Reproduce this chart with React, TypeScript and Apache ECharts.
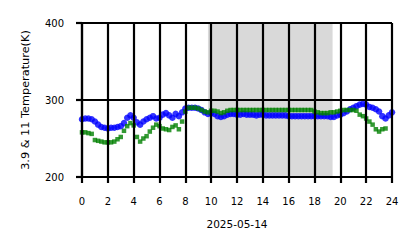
import React, { useEffect, useRef } from "react";
import * as echarts from "echarts";

const xTicks = [0, 2, 4, 6, 8, 10, 12, 14, 16, 18, 20, 22, 24];
const yTicks = [200, 300, 400];
const dateLabel = "2025-05-14";
const yName = "3.9 & 11 Temperature(K)";
const shadeStart = 9.75;
const shadeEnd = 19.4;

// samples every 0.25 h from 0 to 24
const blueTemps = [
  275, 276, 276, 275, 272, 268, 265, 264, 263, 264, 264, 265, 266, 270, 277, 280,
  277, 271, 268, 272, 275, 277, 279, 276, 277, 281, 283, 280, 277, 282, 279, 284,
  289, 290, 290, 290, 289, 287, 284, 282, 283, 282, 279, 278, 279, 281, 282, 282,
  281, 281, 282, 281, 281, 281, 280, 281, 281, 280, 280, 280, 280, 280, 280, 280,
  279, 279, 279, 279, 279, 279, 279, 279, 279, 279, 279, 279,
  279, 278, 278, 280, 281, 283, 285, 288, 290, 292, 294, 295, 294, 291, 290, 288,
  285, 279, 276, 280, 284,
];
const greenTemps = [
  258, 258, 257, 256, 248, 247, 246, 245, 245, 245, 246, 249, 252, 260, 266, 270,
  267, 252, 246, 250, 253, 259, 264, 268, 266, 263, 262, 261, 265, 267, 262, 272,
  285, 290, 290, 290, 289, 287, 285, 284, 286, 286, 285, 283, 284, 286, 287, 287,
  287, 287, 287, 287, 287, 287, 287, 287, 287, 287, 287, 287, 287, 287, 287, 287,
  287, 287, 287, 287, 287, 287, 287, 287, 285, 284,
  283, 283, 283, 284, 284, 285, 286, 287, 287, 287, 287, 286, 281, 279, 276, 272,
  268, 262, 259, 262, 263,
];

const hours = blueTemps.map((_, i) => i * 0.25);

export default function App() {
  const ref = useRef<HTMLDivElement>(null);
  useEffect(() => {
    if (!ref.current) return;
    const chart = echarts.init(ref.current, null, { renderer: "svg" });
    const font = "DejaVu Sans";
    chart.setOption({
      animation: false,
      backgroundColor: "#ffffff",
      grid: { left: 82, right: 26, top: 23, bottom: 71 },
      xAxis: {
        type: "value",
        min: xTicks[0],
        max: xTicks[xTicks.length - 1],
        interval: 2,
        z: 5,
        name: dateLabel,
        nameLocation: "middle",
        nameGap: 41,
        nameTextStyle: { fontFamily: font, fontSize: 10.5, color: "#000" },
        axisLine: { show: true, lineStyle: { color: "#000", width: 2.2 } },
        axisTick: { show: true, length: 6, lineStyle: { color: "#000", width: 2.2 } },
        axisLabel: { fontFamily: font, fontSize: 10, color: "#000", margin: 19 },
        splitLine: { show: true, lineStyle: { color: "#000", width: 2.2 } },
      },
      yAxis: {
        type: "value",
        min: yTicks[0],
        max: yTicks[yTicks.length - 1],
        interval: 100,
        z: 5,
        name: yName,
        nameLocation: "middle",
        nameGap: 51,
        nameTextStyle: { fontFamily: font, fontSize: 11.3, color: "#000" },
        axisLine: { show: true, lineStyle: { color: "#000", width: 2.2 } },
        axisTick: { show: true, length: 6, lineStyle: { color: "#000", width: 2.2 } },
        axisLabel: { fontFamily: font, fontSize: 10, color: "#000", margin: 18 },
        splitLine: { show: true, lineStyle: { color: "#000", width: 2.2 } },
      },
      series: [
        {
          type: "scatter",
          data: hours.map((h, i) => [h, blueTemps[i]]),
          symbol: "circle",
          symbolSize: 6.5,
          itemStyle: { color: "#0000ff" },
          markArea: {
            silent: true,
            itemStyle: { color: "#d9d9d9" },
            data: [[{ xAxis: shadeStart }, { xAxis: shadeEnd }]],
          },
        },
        {
          type: "scatter",
          data: hours.map((h, i) => [h, greenTemps[i]]),
          symbol: "rect",
          symbolSize: 4.5,
          itemStyle: { color: "#008000" },
        },
      ],
    });
    return () => chart.dispose();
  }, []);
  return (
    <div
      ref={ref}
      style={{ position: "fixed", left: 0, top: 0, width: 418, height: 248 }}
    />
  );
}
